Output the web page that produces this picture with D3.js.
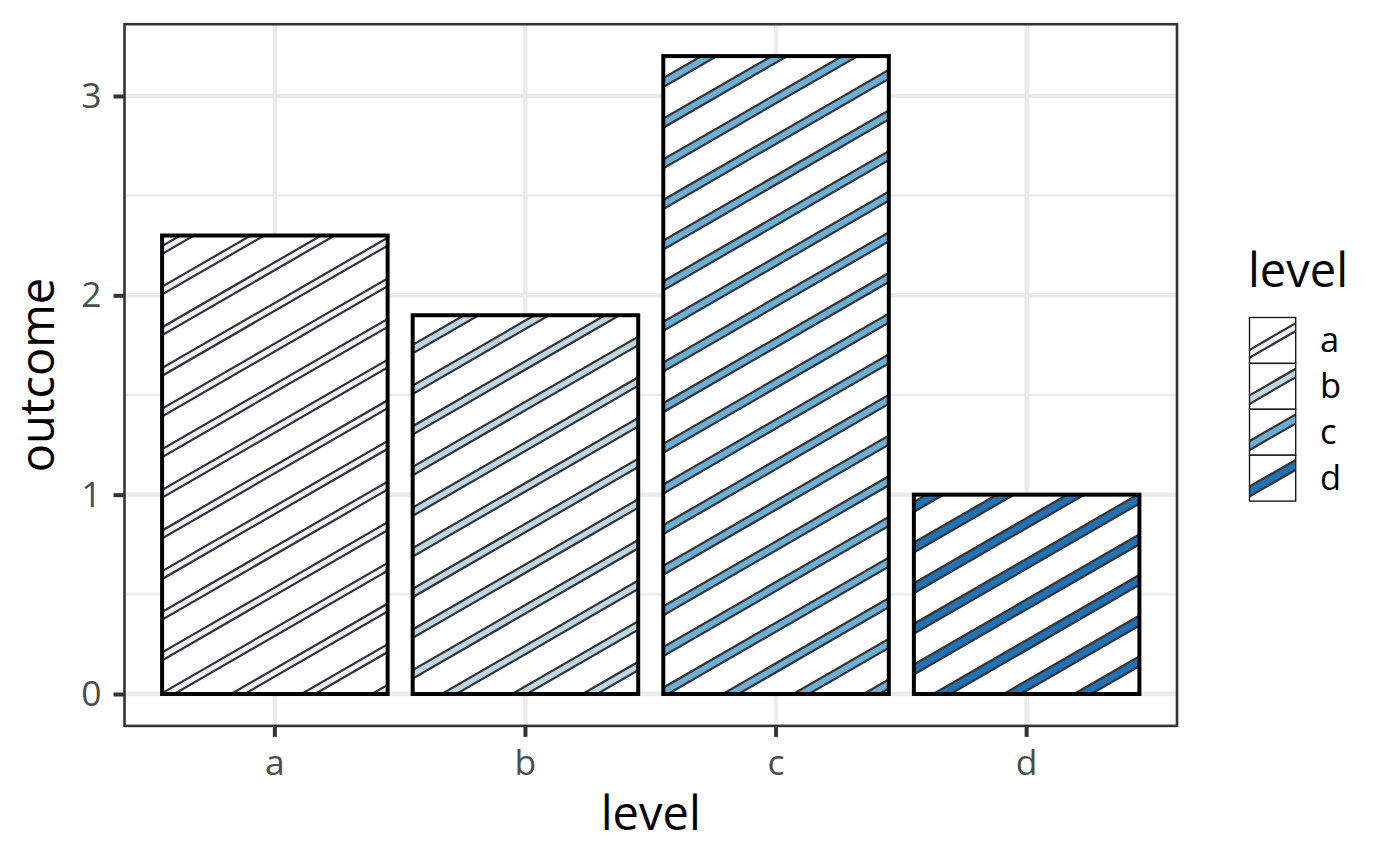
<!DOCTYPE html>
<html><head><meta charset="utf-8">
<script src="https://cdn.jsdelivr.net/npm/d3@7"></script>
<style>body{margin:0;background:#fff;} svg text{font-family:"Open Sans",sans-serif;}</style>
</head><body><svg id="c" width="1400" height="866"></svg>
<script>
// ---- data ----
const categories = ["a", "b", "c", "d"];
const outcome = [2.3, 1.9, 3.2, 1.0];
const yTicks = [0, 1, 2, 3];
const yMinorTicks = [0.5, 1.5, 2.5];
const fillColors = ["#EFF3FF", "#BDD7E7", "#6BAED6", "#2171B5"];
const xTitle = "level", yTitle = "outcome", legendTitle = "level";

// ---- styling ----
const stripeOuter = {a: 9, b: 9.5, c: 10, d: 10.8};
const stripeEdge = 2.2;
const stripeColor = "#333333";
const angle = 30 * Math.PI / 180;
const hSpacing = 70.4;   // horizontal distance between stripes
const phaseX = 97;       // a stripe crosses the zero line here

const svg = d3.select("#c");
const panel = {l: 124.5, r: 1177, t: 24.2, b: 725.9};
const x = d3.scaleBand().domain(categories).range([panel.l, panel.r]).paddingInner(0.1).paddingOuter(0.15);
const y = d3.scaleLinear().domain([-0.16, 3.36]).range([panel.b, panel.t]);
const color = d3.scaleOrdinal().domain(categories).range(fillColors);
const data = categories.map((c, i) => ({level: c, value: outcome[i]}));

svg.append("rect").attr("width", 1400).attr("height", 866).attr("fill", "#fff");
const defs = svg.append("defs");

// panel background & grid
svg.append("rect").attr("x", panel.l).attr("y", panel.t).attr("width", panel.r - panel.l).attr("height", panel.b - panel.t).attr("fill", "#fff");
const grid = svg.append("g");
grid.selectAll(".minor").data(yMinorTicks).join("line")
  .attr("x1", panel.l).attr("x2", panel.r).attr("y1", d => y(d)).attr("y2", d => y(d))
  .attr("stroke", "#EBEBEB").attr("stroke-width", 2.4);
grid.selectAll(".majy").data(yTicks).join("line")
  .attr("x1", panel.l).attr("x2", panel.r).attr("y1", d => y(d)).attr("y2", d => y(d))
  .attr("stroke", "#EBEBEB").attr("stroke-width", 4.6);
grid.selectAll(".majx").data(categories).join("line")
  .attr("y1", panel.t).attr("y2", panel.b).attr("x1", d => x(d) + x.bandwidth() / 2).attr("x2", d => x(d) + x.bandwidth() / 2)
  .attr("stroke", "#EBEBEB").attr("stroke-width", 4.6);

// stripe generator
function stripeLines(x0, y0) {
  const L = 1600, out = [];
  for (let k = -30; k <= 30; k++) {
    const xc = x0 + hSpacing * k;
    out.push([xc - L * Math.cos(angle), y0 + L * Math.sin(angle), xc + L * Math.cos(angle), y0 - L * Math.sin(angle)]);
  }
  return out;
}
function drawStripes(g, lines, lvl) {
  const w = stripeOuter[lvl];
  g.selectAll(".so").data(lines).join("line").attr("class", "so")
    .attr("x1", d => d[0]).attr("y1", d => d[1]).attr("x2", d => d[2]).attr("y2", d => d[3])
    .attr("stroke", stripeColor).attr("stroke-width", w);
  g.selectAll(".si").data(lines).join("line").attr("class", "si")
    .attr("x1", d => d[0]).attr("y1", d => d[1]).attr("x2", d => d[2]).attr("y2", d => d[3])
    .attr("stroke", color(lvl)).attr("stroke-width", Math.max(0.5, w - 2 * stripeEdge));
}

// bars
const barG = svg.append("g");
data.forEach(d => {
  const bx = x(d.level), by = y(d.value), bw = x.bandwidth(), bh = y(0) - y(d.value);
  const id = "clip-" + d.level;
  defs.append("clipPath").attr("id", id).append("rect").attr("x", bx).attr("y", by).attr("width", bw).attr("height", bh);
  barG.append("rect").attr("x", bx).attr("y", by).attr("width", bw).attr("height", bh).attr("fill", "#fff");
  const sg = barG.append("g").attr("clip-path", `url(#${id})`);
  drawStripes(sg, stripeLines(phaseX, y(0)), d.level);
  barG.append("rect").attr("x", bx).attr("y", by).attr("width", bw).attr("height", bh)
    .attr("fill", "none").attr("stroke", "#000").attr("stroke-width", 4);
});

// panel border
svg.append("rect").attr("x", panel.l).attr("y", panel.t).attr("width", panel.r - panel.l).attr("height", panel.b - panel.t)
  .attr("fill", "none").attr("stroke", "#333333").attr("stroke-width", 2.6);

// axes
const ya = svg.append("g").attr("transform", `translate(${panel.l},0)`)
  .call(d3.axisLeft(y).tickValues(yTicks).tickSize(11).tickPadding(12).tickFormat(d3.format("d")));
const xa = svg.append("g").attr("transform", `translate(0,${panel.b})`)
  .call(d3.axisBottom(x).tickSize(11).tickPadding(13));
[ya, xa].forEach(a => {
  a.select(".domain").remove();
  a.selectAll(".tick line").attr("stroke", "#333333").attr("stroke-width", 4);
  a.selectAll(".tick text").attr("fill", "#4D4D4D").attr("font-size", 35.5).attr("font-family", "'Open Sans', sans-serif");
});

// titles
svg.append("text").attr("x", (panel.l + panel.r) / 2).attr("y", 830).attr("text-anchor", "middle")
  .attr("font-size", 47).attr("fill", "#000").text(xTitle);
svg.append("text").attr("transform", `translate(54,${(panel.t + panel.b) / 2}) rotate(-90)`).attr("text-anchor", "middle")
  .attr("font-size", 47).attr("fill", "#000").text(yTitle);

// legend
const lg = svg.append("g");
lg.append("text").attr("x", 1248).attr("y", 287).attr("font-size", 47).attr("fill", "#000").text(legendTitle);
const keyX = 1249.5, keyY = 317.5, keyS = 45.9;
categories.forEach((c, i) => {
  const ky = keyY + keyS * i;
  const id = "kclip-" + c;
  defs.append("clipPath").attr("id", id).append("rect").attr("x", keyX).attr("y", ky).attr("width", 46.2).attr("height", keyS);
  lg.append("rect").attr("x", keyX).attr("y", ky).attr("width", 46.2).attr("height", keyS).attr("fill", "#fff");
  const sg = lg.append("g").attr("clip-path", `url(#${id})`);
  const cx = keyX + 23.1, cy = ky + keyS / 2;
  const L = 60;
  drawStripes(sg, [[cx - L * Math.cos(angle), cy + L * Math.sin(angle), cx + L * Math.cos(angle), cy - L * Math.sin(angle)]], c);
  lg.append("rect").attr("x", keyX).attr("y", ky).attr("width", 46.2).attr("height", keyS)
    .attr("fill", "none").attr("stroke", "#1a1a1a").attr("stroke-width", 1.4);
  lg.append("text").attr("x", 1320).attr("y", cy + 12).attr("font-size", 34.5).attr("fill", "#000").text(c);
});
</script></body></html>
